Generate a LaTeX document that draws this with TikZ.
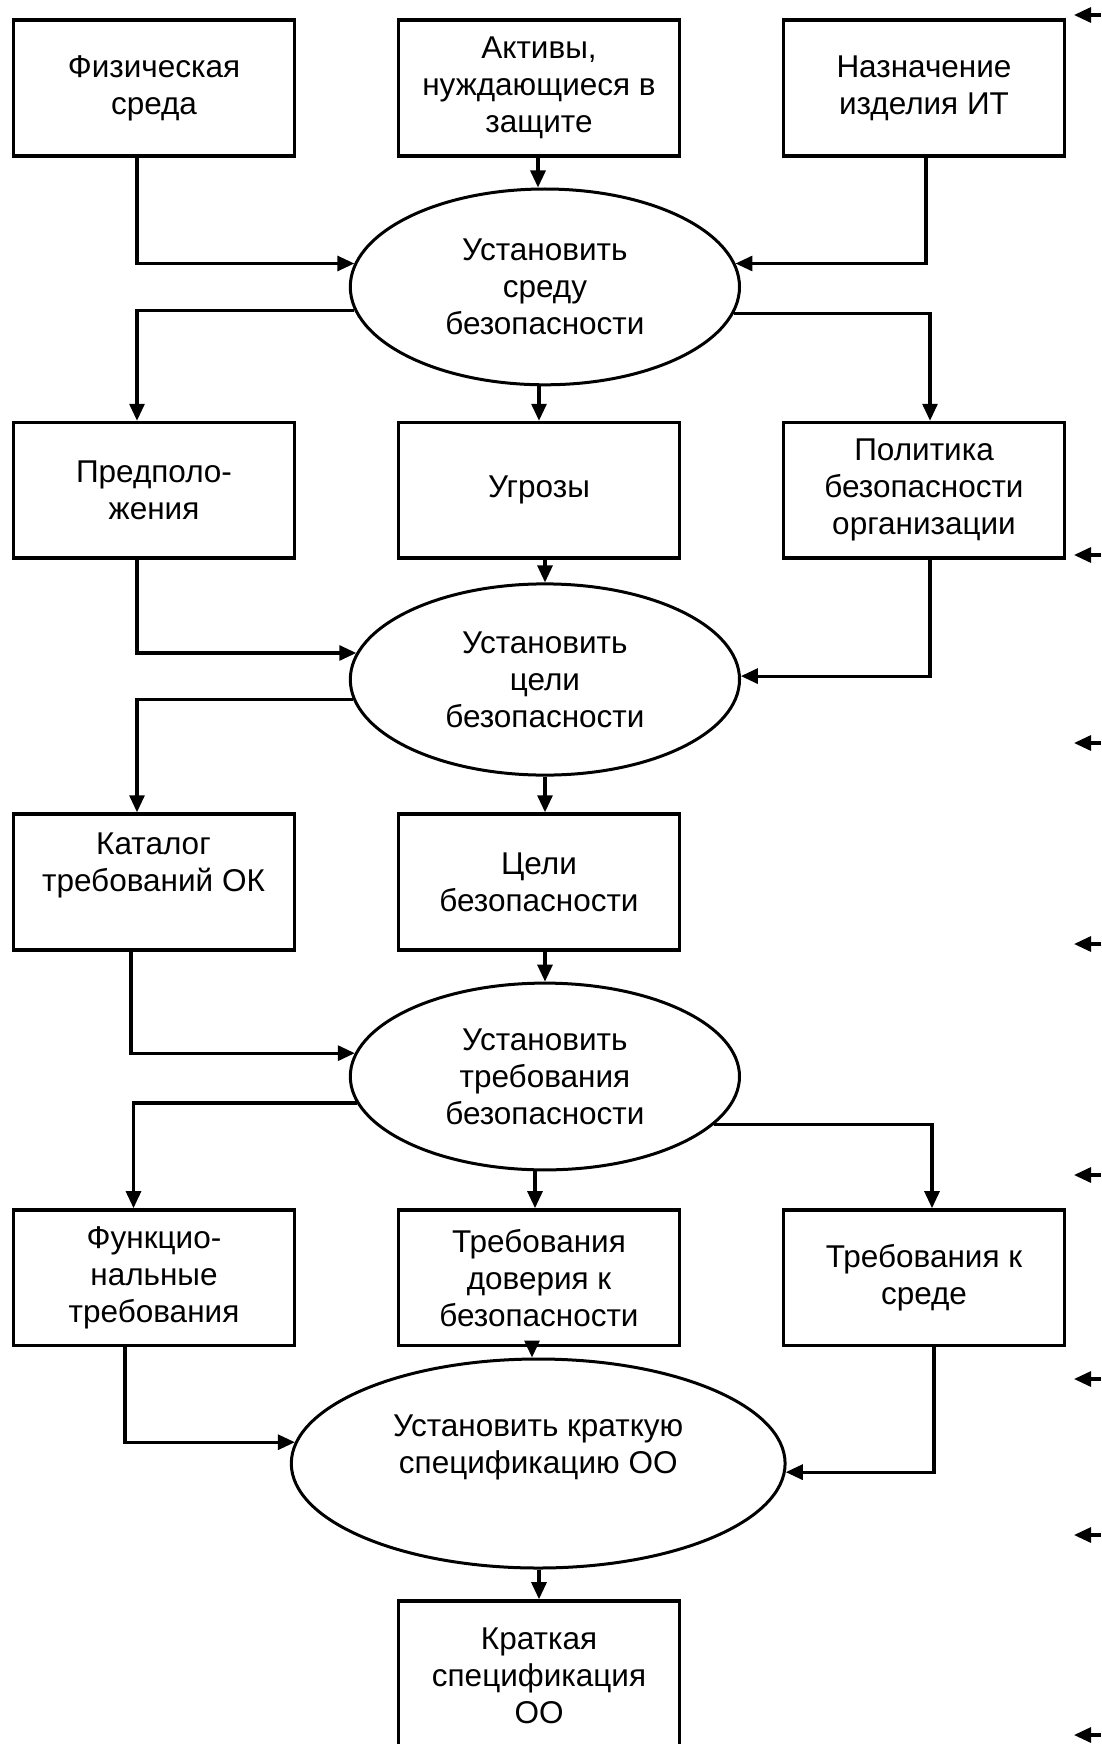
\documentclass[tikz,border=0pt]{standalone}
\usepackage{fontspec}
\setmainfont{Liberation Sans}
\usetikzlibrary{shapes.geometric,arrows.meta}
\begin{document}
\begin{tikzpicture}[x=1pt,y=-1pt,
  lbl/.style={font=\fontsize{31.5}{37}\selectfont},
  box/.style={lbl,draw,line width=3.6pt,minimum width=281pt,minimum height=135.7pt,inner sep=0pt,align=center},
  oval/.style={lbl,draw,ellipse,line width=3pt,inner sep=0pt,align=center},
  txt/.style={lbl,inner sep=0pt,align=center},
  arr/.style={line width=3.1pt,-{Triangle[length=17pt,width=15pt]}},
]
\useasboundingbox (0,0) rectangle (1101,1744);
\fill[white] (0,0) rectangle (1101,1744);

% row 1
\node[box] (phys)    at (154,87.9) {Физическая\\среда};
\node[box] (assets)  at (539,87.9) {Активы,\\нуждающиеся в\\защите};
\node[box] (purpose) at (924,87.9) {Назначение\\изделия ИТ};
\node[oval,minimum width=389.2pt,minimum height=195.8pt] (E1) at (544.9,286.9) {Установить\\среду\\безопасности};

% row 2
\node[box] (assump)  at (154,490.4) {Предполо-\\жения};
\node[box] (threats) at (539,490.4) {Угрозы};
\node[box] (policy)  at (924,490.4) {Политика\\безопасности\\организации};
\node[oval,minimum width=389.2pt,minimum height=191.2pt] (E2) at (544.9,679.5) {Установить\\цели\\безопасности};

% row 3
\node[box] (catalog) at (154,881.9) {};
\node[txt] (catalogtxt) at (153.5,865.8) {Каталог\\требований ОК};
\node[box] (goals)   at (539,881.9) {Цели\\безопасности};
\node[oval,minimum width=389.2pt,minimum height=186.8pt] (E3) at (544.9,1076.5) {Установить\\требования\\безопасности};

% row 4
\node[box] (func)    at (154,1277.8) {Функцио-\\нальные\\требования};
\node[box] (trust)   at (539,1277.8) {Требования\\доверия к\\безопасности};
\node[box] (envreq)  at (924,1277.8) {Требования к\\среде};
\node[oval,minimum width=493.8pt,minimum height=209pt] (E4) at (538.2,1463.5) {};
\node[txt] (E4txt) at (538.2,1447.4) {Установить краткую\\спецификацию ОО};

% final
\node[box,minimum height=150pt] (final) at (539,1676) {Краткая\\спецификация\\ОО};

% connectors
\draw[arr] ([xshift=-17pt]phys.south) |- (E1.173);
\draw[arr] ([xshift=-1pt]assets.south) -- ([xshift=-1pt]assets.south |- E1.north);
\draw[arr] ([xshift=2pt]purpose.south) |- (E1.7);
\draw[arr] (E1.187) -| ([xshift=-17pt]assump.north);
\draw[arr] (threats.north |- E1.south) -- (threats.north);
\draw[arr] (E1.352) -| ([xshift=6pt]policy.north);

\draw[arr] ([xshift=-17pt]assump.south) |- (E2.172);
\draw[arr] ([xshift=6pt]threats.south) -- ([xshift=6pt]threats.south |- E2.north);
\draw[arr] ([xshift=6pt]policy.south) |- (E2.1.3);
\draw[arr] (E2.186) -| ([xshift=-17pt]catalog.north);
\draw[arr] ([xshift=6pt]goals.north |- E2.south) -- ([xshift=6pt]goals.north);

\draw[arr] ([xshift=-23pt]catalog.south) |- (E3.173);
\draw[arr] ([xshift=6pt]goals.south) -- ([xshift=6pt]goals.south |- E3.north);
\draw[arr] (E3.188) -| ([xshift=-20.5pt]func.north);
\draw[arr] ([xshift=-4pt]trust.north |- E3.south) -- ([xshift=-4pt]trust.north);
\draw[arr] (E3.344.5) -| ([xshift=8pt]envreq.north);

\draw[arr] ([xshift=-29pt]func.south) |- (E4.175.6);
\draw[arr] ([xshift=-7pt]trust.south) -- ([xshift=-7pt]trust.south |- E4.north);
\draw[arr] ([xshift=10pt]envreq.south) |- (E4.358.6);
\draw[arr] (final.north |- E4.south) -- (final.north);

% stray stubs on the right edge
\foreach \i/\yy in {1/15,2/555,3/743,4/944,5/1175,6/1379,7/1535,8/1735}{
  \coordinate (rs\i) at (1101,\yy);
  \coordinate (re\i) at (1074,\yy);
  \draw[arr] (rs\i) -- (re\i);
}
\end{tikzpicture}
\end{document}
